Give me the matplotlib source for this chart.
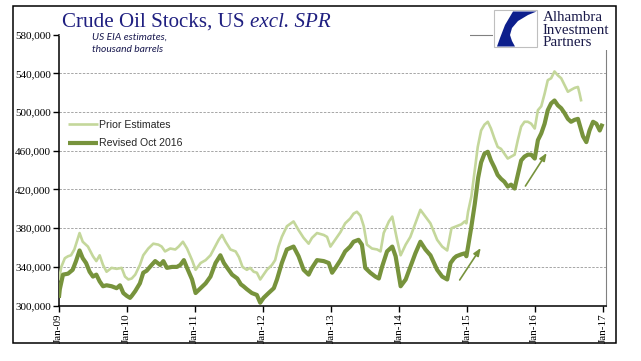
import matplotlib
matplotlib.use('Agg')
import matplotlib.pyplot as plt
import matplotlib.dates as mdates
from matplotlib.patches import Rectangle, Polygon
from matplotlib.ticker import FuncFormatter
import pandas as pd

# weekly stocks, thousand barrels
prior_dates = [
    '2009-01-02', '2009-01-15', '2009-02-03', '2009-02-20', '2009-03-08', '2009-03-26', '2009-04-23',
    '2009-05-10', '2009-06-07', '2009-07-04', '2009-07-22', '2009-08-09', '2009-08-27', '2009-09-15',
    '2009-10-12', '2009-11-08', '2009-12-05', '2009-12-23', '2010-01-10', '2010-01-28', '2010-02-16',
    '2010-03-13', '2010-03-31', '2010-04-27', '2010-05-24', '2010-06-20', '2010-07-08', '2010-07-26',
    '2010-08-23', '2010-09-19', '2010-10-07', '2010-10-30', '2010-11-21', '2010-12-18', '2011-01-06',
    '2011-02-02', '2011-03-01', '2011-03-27', '2011-05-10', '2011-05-28', '2011-06-16', '2011-07-12',
    '2011-08-09', '2011-08-27', '2011-09-15', '2011-10-08', '2011-10-26', '2011-11-14', '2011-12-01',
    '2011-12-19', '2012-01-06', '2012-01-24', '2012-02-20', '2012-03-08', '2012-03-26', '2012-04-13',
    '2012-05-10', '2012-06-15', '2012-07-12', '2012-08-08', '2012-09-04', '2012-09-22', '2012-10-19',
    '2012-11-24', '2012-12-12', '2012-12-30', '2013-01-17', '2013-02-22', '2013-03-19', '2013-04-15',
    '2013-05-03', '2013-05-21', '2013-06-09', '2013-06-27', '2013-07-14', '2013-08-10', '2013-09-07',
    '2013-09-25', '2013-10-12', '2013-11-09', '2013-11-27', '2013-12-23', '2014-01-11', '2014-02-07',
    '2014-03-04', '2014-03-31', '2014-04-27', '2014-05-24', '2014-06-20', '2014-07-26', '2014-08-22',
    '2014-09-18', '2014-10-11', '2014-11-06', '2014-12-03', '2014-12-21', '2014-12-30', '2015-01-08',
    '2015-01-26', '2015-02-13', '2015-03-01', '2015-03-19', '2015-04-06', '2015-04-24', '2015-05-11',
    '2015-05-29', '2015-06-16', '2015-07-04', '2015-07-22', '2015-08-09', '2015-08-27', '2015-09-15',
    '2015-10-02', '2015-10-20', '2015-11-07', '2015-11-25', '2015-12-13', '2016-01-01', '2016-01-18',
    '2016-02-05', '2016-02-23', '2016-03-11', '2016-03-29', '2016-04-16', '2016-05-04', '2016-05-22',
    '2016-06-09', '2016-06-27', '2016-07-14', '2016-08-02', '2016-08-20', '2016-08-29', '2016-09-07',
]
prior_kbbl = [
    326000, 340000, 349000, 351000, 352000, 358000, 375000,
    366000, 361000, 351000, 346000, 352000, 342000, 335000,
    339000, 338000, 339000, 330000, 327000, 328000, 332000,
    342000, 352000, 359000, 364000, 363000, 361000, 356000,
    359000, 358000, 361000, 366000, 359000, 347000, 337000,
    344000, 347000, 352000, 368000, 373000, 366000, 358000,
    356000, 350000, 340000, 337000, 339000, 335000, 334000,
    327000, 332000, 337000, 342000, 347000, 361000, 371000,
    382000, 387000, 378000, 370000, 364000, 370000, 375000,
    373000, 371000, 361000, 366000, 376000, 385000, 390000,
    395000, 397000, 393000, 382000, 363000, 359000, 358000,
    356000, 375000, 387000, 392000, 368000, 352000, 363000,
    371000, 385000, 399000, 392000, 385000, 368000, 361000,
    357000, 380000, 382000, 384000, 387000, 385000, 397000,
    413000, 440000, 464000, 481000, 487000, 490000, 483000,
    473000, 464000, 462000, 457000, 452000, 454000, 456000,
    471000, 485000, 490000, 490000, 488000, 483000, 502000,
    506000, 519000, 533000, 535000, 542000, 538000, 535000,
    528000, 521000, 523000, 525000, 526000, 519000, 511000,
]

revised_dates = [
    '2009-01-02', '2009-01-07', '2009-01-24', '2009-02-20', '2009-03-17', '2009-04-04', '2009-04-23',
    '2009-05-10', '2009-05-28', '2009-06-16', '2009-07-04', '2009-07-22', '2009-08-09', '2009-08-27',
    '2009-09-15', '2009-10-12', '2009-11-08', '2009-11-26', '2009-12-14', '2010-01-02', '2010-01-19',
    '2010-01-28', '2010-02-16', '2010-03-13', '2010-03-31', '2010-04-18', '2010-05-15', '2010-06-03',
    '2010-06-30', '2010-07-17', '2010-08-05', '2010-09-02', '2010-09-28', '2010-10-16', '2010-11-04',
    '2010-11-21', '2010-12-18', '2011-01-06', '2011-02-02', '2011-03-01', '2011-03-27', '2011-04-23',
    '2011-05-19', '2011-06-07', '2011-06-25', '2011-07-21', '2011-08-18', '2011-09-06', '2011-09-20',
    '2011-10-08', '2011-11-04', '2011-12-01', '2011-12-19', '2012-01-06', '2012-02-02', '2012-03-01',
    '2012-03-18', '2012-04-13', '2012-05-10', '2012-06-15', '2012-07-12', '2012-08-08', '2012-09-04',
    '2012-09-22', '2012-10-19', '2012-11-24', '2012-12-21', '2013-01-08', '2013-01-26', '2013-02-22',
    '2013-03-19', '2013-04-15', '2013-05-03', '2013-05-30', '2013-06-17', '2013-07-05', '2013-08-01',
    '2013-08-28', '2013-09-16', '2013-10-03', '2013-10-30', '2013-11-27', '2013-12-15', '2014-01-11',
    '2014-02-07', '2014-03-04', '2014-03-31', '2014-04-27', '2014-05-24', '2014-06-20', '2014-07-26',
    '2014-08-22', '2014-09-18', '2014-10-06', '2014-10-25', '2014-11-06', '2014-12-03', '2014-12-21',
    '2014-12-30', '2015-01-08', '2015-01-26', '2015-02-13', '2015-03-03', '2015-03-19', '2015-04-06',
    '2015-04-24', '2015-05-11', '2015-05-29', '2015-06-16', '2015-07-04', '2015-07-22', '2015-08-09',
    '2015-08-27', '2015-09-15', '2015-10-02', '2015-10-20', '2015-11-07', '2015-11-25', '2015-12-13',
    '2016-01-01', '2016-01-18', '2016-02-05', '2016-02-23', '2016-03-11', '2016-03-29', '2016-04-16',
    '2016-05-04', '2016-05-22', '2016-06-09', '2016-06-27', '2016-07-14', '2016-08-02', '2016-08-20',
    '2016-08-29', '2016-09-16', '2016-10-04', '2016-10-21', '2016-11-09', '2016-11-27', '2016-12-15',
    '2016-12-30',
]
revised_kbbl = [
    308000, 317000, 332000, 333000, 337000, 346000, 357000,
    349000, 344000, 335000, 330000, 332000, 325000, 320000,
    321000, 320000, 318000, 321000, 313000, 310000, 308000,
    310000, 315000, 323000, 334000, 336000, 342000, 346000,
    342000, 346000, 339000, 340000, 340000, 342000, 347000,
    339000, 327000, 313000, 318000, 323000, 330000, 344000,
    352000, 344000, 339000, 332000, 328000, 322000, 320000,
    317000, 313000, 311000, 303000, 308000, 313000, 318000,
    327000, 344000, 358000, 361000, 351000, 337000, 332000,
    339000, 347000, 346000, 344000, 334000, 339000, 347000,
    356000, 361000, 366000, 368000, 363000, 339000, 334000,
    330000, 328000, 340000, 356000, 361000, 351000, 320000,
    327000, 340000, 354000, 366000, 358000, 352000, 337000,
    330000, 327000, 344000, 349000, 351000, 353000, 354000,
    351000, 361000, 382000, 405000, 432000, 448000, 457000,
    459000, 450000, 443000, 435000, 431000, 428000, 423000,
    425000, 421000, 435000, 450000, 454000, 456000, 456000,
    452000, 471000, 478000, 488000, 502000, 509000, 512000,
    507000, 504000, 499000, 493000, 490000, 492000, 493000,
    487000, 475000, 469000, 481000, 490000, 488000, 481000,
    488000,
]

y_ticks = [300000, 340000, 380000, 420000, 460000, 500000, 540000, 580000]

# the two hand-drawn arrows (tail -> head)
arrow_tails = [('2014-11-24', 326500), ('2015-11-12', 423600)]
arrow_heads = [('2015-03-17', 359500), ('2016-03-05', 457700)]

W, H = 641, 361
LIGHT = '#C4D79B'
DARK = '#77933C'
NAVY = '#1F1F80'


def fx(px):
    return px / W


def fy(py):
    return 1 - py / H


fig = plt.figure(figsize=(W / 100, H / 100), dpi=100)
ax = fig.add_axes([fx(58.7), fy(305.6), fx(605.7) - fx(58.7), fy(34.7) - fy(305.6)])

ax.plot(pd.to_datetime(prior_dates), prior_kbbl, color=LIGHT, lw=1.9,
        solid_joinstyle='round', solid_capstyle='butt', label='Prior Estimates', zorder=3)
ax.plot(pd.to_datetime(revised_dates), revised_kbbl, color=DARK, lw=3.0,
        solid_joinstyle='round', solid_capstyle='butt', label='Revised Oct 2016', zorder=4)

for (t0, v0), (t1, v1) in zip(arrow_tails, arrow_heads):
    ax.annotate('', xy=(pd.Timestamp(t1), v1), xytext=(pd.Timestamp(t0), v0),
                arrowprops=dict(arrowstyle='-|>,head_length=0.45,head_width=0.18',
                                color=DARK, lw=1.2, shrinkA=0, shrinkB=0), zorder=5)

ax.set_ylim(300000, 580000)
ax.set_xlim(pd.Timestamp('2009-01-01'), pd.Timestamp('2017-01-16'))
ax.set_yticks(y_ticks)
ax.yaxis.set_major_formatter(FuncFormatter(lambda v, p: f'{v:,.0f}'))
ax.set_xticks(pd.to_datetime([f'{y}-01-01' for y in range(2009, 2018)]))
ax.xaxis.set_major_formatter(mdates.DateFormatter('%b-%y'))

for y in y_ticks[1:-1]:
    ax.axhline(y, color='#A6A6A6', lw=0.7, ls=(0, (2.5, 1.5)), zorder=1)

for s in ('left', 'bottom'):
    ax.spines[s].set_color('black')
    ax.spines[s].set_linewidth(1.1)
for s in ('top', 'right'):
    ax.spines[s].set_color('#808080')
    ax.spines[s].set_linewidth(0.8)

ax.tick_params(axis='both', direction='out', length=4, width=1, color='black', pad=1.5)
for lbl in ax.get_yticklabels():
    lbl.set_fontfamily('Liberation Serif')
    lbl.set_fontsize(8)
for lbl in ax.get_xticklabels():
    lbl.set_fontfamily('Liberation Serif')
    lbl.set_fontsize(8)
    lbl.set_rotation(90)

leg = ax.legend(loc='upper left', bbox_to_anchor=(fx(68), fy(119.5)), bbox_transform=fig.transFigure,
                frameon=False, prop={'family': 'Liberation Sans', 'size': 7.6},
                handlelength=2.85, handletextpad=0.1, labelspacing=0.85, borderpad=0, borderaxespad=0)
for t in leg.get_texts():
    t.set_color('#262626')

fig.text(fx(92), fy(52), 'US EIA estimates,\nthousand barrels', fontsize=7.4, style='italic',
         family='Lato', color='#1A1A50', va='baseline', linespacing=1.5)

# title, white panel hides the top spine underneath it
fig.add_artist(Rectangle((fx(59.6), fy(36.5)), fx(470) - fx(59.6), fy(8) - fy(36.5),
                         transform=fig.transFigure, facecolor='white', edgecolor='none', zorder=2))
t1 = fig.text(fx(62), fy(27), 'Crude Oil Stocks, US ', fontsize=15.1, family='Liberation Serif',
              color=NAVY, va='baseline', zorder=3)
fig.canvas.draw()
bb = t1.get_window_extent()
fig.text(bb.x1 / fig.bbox.width, fy(27), 'excl. SPR', fontsize=15.1, family='Liberation Serif',
         style='italic', color=NAVY, va='baseline', zorder=3)

# logo
fig.add_artist(Rectangle((fx(493), fy(50)), fx(612) - fx(493), fy(8) - fy(50),
                         transform=fig.transFigure, facecolor='white', edgecolor='none', zorder=2))
fig.add_artist(Rectangle((fx(494), fy(47)), fx(537) - fx(494), fy(10) - fy(47),
                         transform=fig.transFigure, facecolor='white', edgecolor='#BFBFBF', lw=0.8, zorder=3))
swoosh = [(513, 11.5), (536.5, 11.5), (528, 15), (518, 21), (512, 28), (510, 35), (512, 41),
          (515, 46.5), (497, 46.5), (500, 38), (505, 25)]
fig.add_artist(Polygon([(fx(a), fy(b)) for a, b in swoosh], closed=True, transform=fig.transFigure,
                       facecolor='#0D1F8C', edgecolor='none', zorder=4))
for txt, base in (('Alhambra', 20.7), ('Investment', 33.5), ('Partners', 45.7)):
    fig.text(fx(542.5), fy(base), txt, fontsize=10.8, family='Liberation Serif', color='#1A1A4A',
             va='baseline', zorder=4)

# outer chart border
fig.add_artist(Rectangle((fx(13), fy(343)), fx(616) - fx(13), fy(6) - fy(343),
                         transform=fig.transFigure, facecolor='none', edgecolor='black', lw=1.1, zorder=5))

fig.savefig('out.png', dpi=100)
